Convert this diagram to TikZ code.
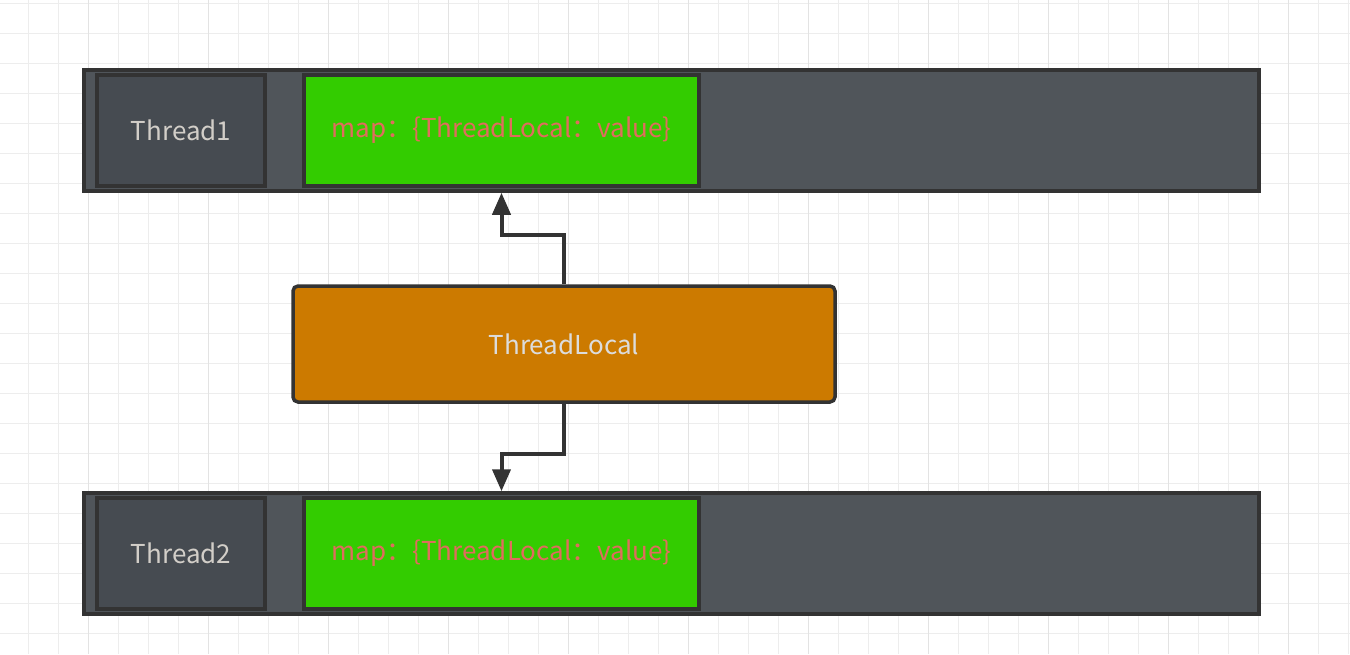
\documentclass[tikz,border=0pt]{standalone}
\usepackage{fontspec}
\setmainfont{Noto Sans CJK SC}
\usetikzlibrary{arrows.meta}
\definecolor{gridc}{HTML}{EDEDED}
\definecolor{gridm}{HTML}{E3E3E3}
\definecolor{edge}{HTML}{333333}
\definecolor{outerf}{HTML}{50555A}
\definecolor{innerf}{HTML}{464B51}
\definecolor{greenf}{HTML}{33CC00}
\definecolor{mapt}{HTML}{E06C5E}
\definecolor{orangef}{HTML}{CC7A00}
\definecolor{labt}{HTML}{D2CEC8}
\definecolor{tlt}{HTML}{DCDCDC}
\tikzset{
  outerbox/.style={draw=edge, line width=3.5pt, fill=outerf, minimum width=1175pt, minimum height=121pt, inner sep=0pt},
  threadbox/.style={draw=edge, line width=3.5pt, fill=innerf, minimum width=168pt, minimum height=111pt, inner sep=0pt, text=labt, font=\fontsize{26}{30}\selectfont},
  mapbox/.style={draw=edge, line width=3.5pt, fill=greenf, minimum width=395pt, minimum height=111pt, inner sep=0pt, text=mapt, font=\fontsize{26}{30}\selectfont},
  tlbox/.style={draw=edge, line width=3.5pt, fill=orangef, rounded corners=5pt, minimum width=542pt, minimum height=116pt, inner sep=0pt, text=tlt, font=\fontsize{26}{30}\selectfont},
  conn/.style={draw=edge, line width=4pt, -{Triangle[length=22pt,width=18pt]}}
}
\begin{document}
\begin{tikzpicture}[x=1pt,y=-1pt]
\useasboundingbox (0,0) rectangle (1350,654);
\fill[white] (0,0) rectangle (1350,654);
\foreach \x in {28,58,...,1348} \draw[gridc, line width=1pt] (\x,0) -- (\x,654);
\foreach \y in {3,33,...,653} \draw[gridc, line width=1pt] (0,\y) -- (1350,\y);
\foreach \x in {88,208,...,1348} \draw[gridm, line width=1pt] (\x,0) -- (\x,654);
% Thread1
\node[outerbox] (t1) at (671.5,130.5) {};
\node[threadbox] (th1) at (181,130.5) {Thread1};
\node[mapbox] (g1) at (501.5,130.5) {map：\{ThreadLocal：value\}};
% Thread2
\node[outerbox] (t2) at (671.5,553.5) {};
\node[threadbox] (th2) at (181,553.5) {Thread2};
\node[mapbox] (g2) at (501.5,553.5) {map：\{ThreadLocal：value\}};
% ThreadLocal
\node[tlbox] (tl) at (564,344) {ThreadLocal};
\draw[conn] (tl.north) -- ++(0,-49) -| (g1.south |- t1.south);
\draw[conn] (tl.south) -- ++(0,50) -| (g2.north |- t2.north);
\end{tikzpicture}
\end{document}
